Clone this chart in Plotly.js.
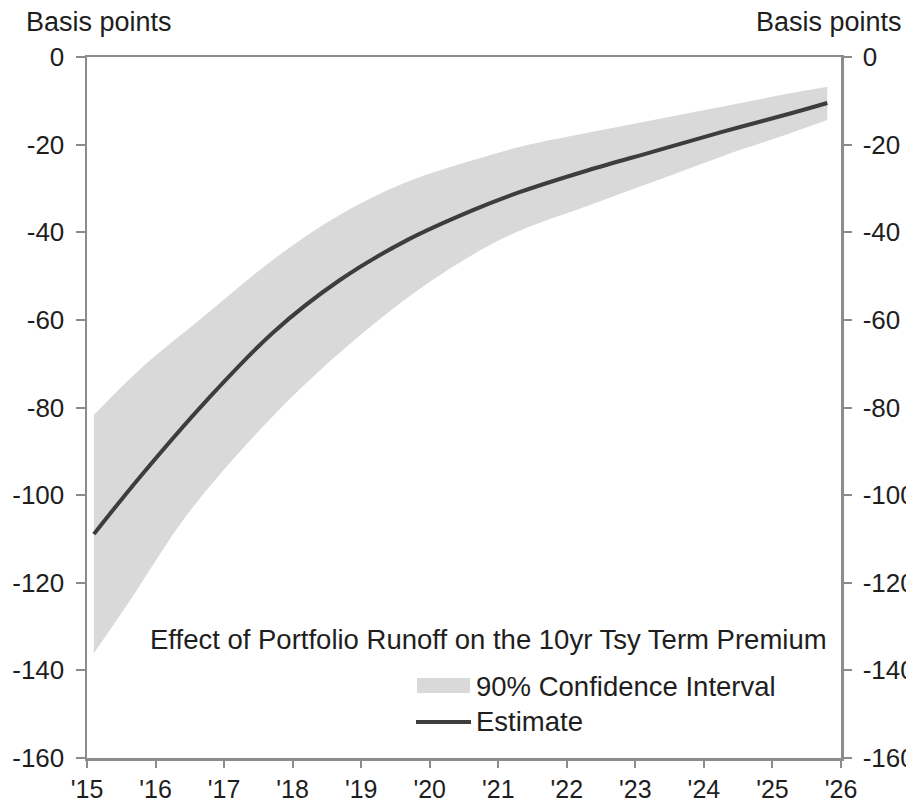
<!DOCTYPE html>
<html>
<head>
<meta charset="utf-8">
<script src="https://cdn.plot.ly/plotly-3.0.1.min.js"></script>
<style>
html,body{margin:0;padding:0;background:#fff;}
#chart{width:906px;height:802px;}
</style>
</head>
<body>
<div id="chart"></div>
<script>
// Estimate (years as decimals, basis points)
const estX = [2015.10, 2015.77, 2016.75, 2017.72, 2018.69, 2019.67, 2020.64, 2021.32, 2022.30, 2023.26, 2024.24, 2025.26, 2025.80];
const estY = [-108.9, -95.9, -78.3, -62.8, -50.9, -41.8, -34.9, -30.8, -25.9, -21.6, -17.2, -12.9, -10.5];
// 90% confidence interval upper bound
const upX = [2015.10, 2015.77, 2016.75, 2017.72, 2018.69, 2019.67, 2020.64, 2021.32, 2022.34, 2023.32, 2024.28, 2025.26, 2025.80];
const upY = [-81.7, -71.3, -58.6, -46.2, -36.0, -28.5, -23.5, -20.5, -17.2, -14.2, -11.3, -8.3, -6.8];
// 90% confidence interval lower bound
const loX = [2015.10, 2015.63, 2016.46, 2017.44, 2018.40, 2019.67, 2020.64, 2021.32, 2022.30, 2023.26, 2024.24, 2025.26, 2025.80];
const loY = [-136.1, -124.0, -104.5, -86.5, -71.5, -55.0, -45.0, -39.6, -34.0, -28.5, -22.8, -17.4, -14.4];
// Axis ticks
const yearTicks = [2015, 2016, 2017, 2018, 2019, 2020, 2021, 2022, 2023, 2024, 2025, 2026];
const yearLabels = ["'15", "'16", "'17", "'18", "'19", "'20", "'21", "'22", "'23", "'24", "'25", "'26"];
const yTicks = [0, -20, -40, -60, -80, -100, -120, -140, -160];
const yLabels = ['0', '-20', '-40', '-60', '-80', '-100', '-120', '-140', '-160'];

const legendTitle = 'Effect of Portfolio Runoff on the 10yr Tsy Term Premium';
const ciName = '90% Confidence Interval';
const estName = 'Estimate';

const FONT = 'Liberation Sans, Arial, sans-serif';
const AX = '#8c8c8c';
const TXT = '#1e1e1e';
const BAND = '#d9d9d9';
const LINE = '#3d3d3d';

const traces = [
  {x: loX, y: loY, type: 'scatter', mode: 'lines',
   line: {width: 0, shape: 'spline', smoothing: 1, color: BAND}, name: ciName + ' (lower)', showlegend: false, hoverinfo: 'skip'},
  {x: upX, y: upY, type: 'scatter', mode: 'lines', fill: 'tonexty', fillcolor: BAND,
   line: {width: 0, shape: 'spline', smoothing: 1, color: BAND}, name: ciName, showlegend: false, hoverinfo: 'skip'},
  {x: estX, y: estY, type: 'scatter', mode: 'lines', yaxis: 'y2',
   line: {width: 4, shape: 'spline', smoothing: 1, color: LINE}, name: estName, showlegend: false}
];

const W = 754, H = 701; // plot area size in px
const px = v => (v - 87) / W;
const py = v => (758 - v) / H;

const axisCommon = {
  showline: true, linecolor: AX, linewidth: 2.5,
  ticks: 'outside', tickcolor: AX, tickwidth: 2,
  showgrid: false, zeroline: false,
  tickfont: {family: FONT, size: 26, color: TXT}
};

const layout = {
  width: 906, height: 802,
  margin: {l: 87, r: 65, t: 57, b: 44, pad: 0},
  paper_bgcolor: '#fff', plot_bgcolor: '#fff',
  showlegend: false,
  font: {family: FONT, size: 26, color: TXT},
  xaxis: Object.assign({}, axisCommon, {
    range: [2015, 2026], tickvals: yearTicks, ticktext: yearLabels,
    ticklen: 7, mirror: true, ticklabelstandoff: 0,
    tickfont: {family: FONT, size: 25, color: TXT}
  }),
  yaxis: Object.assign({}, axisCommon, {
    range: [-160, 0], tickvals: yTicks, ticktext: yLabels, ticklen: 9, ticklabelstandoff: 6
  }),
  yaxis2: Object.assign({}, axisCommon, {
    range: [-160, 0], tickvals: yTicks, ticktext: yLabels, ticklen: 8, overlaying: 'y', side: 'right', ticklabelstandoff: 6
  }),
  shapes: [
    {type: 'rect', xref: 'paper', yref: 'paper', x0: px(417), x1: px(470), y0: py(693), y1: py(678),
     fillcolor: BAND, line: {width: 0}},
    {type: 'line', xref: 'paper', yref: 'paper', x0: px(416), x1: px(471), y0: py(722), y1: py(722),
     line: {color: LINE, width: 4}}
  ],
  annotations: [
    {text: 'Basis points', xref: 'paper', yref: 'paper', x: px(24), y: py(22), xanchor: 'left', yanchor: 'middle',
     showarrow: false, font: {family: FONT, size: 27, color: TXT}},
    {text: 'Basis points', xref: 'paper', yref: 'paper', x: px(904), y: py(22), xanchor: 'right', yanchor: 'middle',
     showarrow: false, font: {family: FONT, size: 27, color: TXT}},
    {text: legendTitle, xref: 'paper', yref: 'paper', x: px(829), y: py(639), xanchor: 'right', yanchor: 'middle',
     showarrow: false, font: {family: FONT, size: 27.5, color: TXT}},
    {text: ciName, xref: 'paper', yref: 'paper', x: px(474), y: py(686), xanchor: 'left', yanchor: 'middle',
     showarrow: false, font: {family: FONT, size: 27.5, color: TXT}},
    {text: estName, xref: 'paper', yref: 'paper', x: px(474), y: py(721), xanchor: 'left', yanchor: 'middle',
     showarrow: false, font: {family: FONT, size: 27.5, color: TXT}}
  ]
};

Plotly.newPlot('chart', traces, layout, {staticPlot: true, displayModeBar: false});
</script>
</body>
</html>
